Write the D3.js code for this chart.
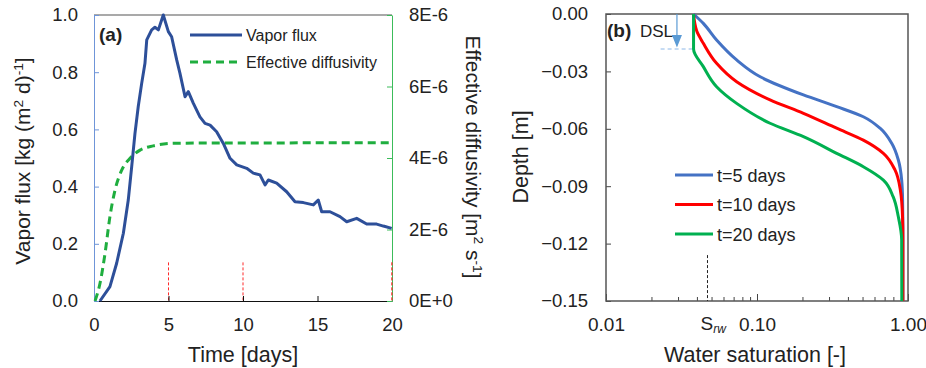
<!DOCTYPE html>
<html lang="en">
<head>
<meta charset="UTF-8">
<title>Vapor flux / water saturation</title>
<script src="https://cdn.jsdelivr.net/npm/d3@7/dist/d3.min.js"></script>
<style>
    body { margin: 0; background: #fff; }
    text { font-family: "Liberation Sans", Arial, sans-serif; fill: #222; }
</style>
</head>
<body>
<script>
    // ---- panel (a): vapor flux and effective diffusivity over time
    const fluxTime = [0.4, 1.07, 1.52, 1.97, 2.3, 2.53, 2.75, 2.97, 3.2, 3.42, 3.54, 3.87, 4.09, 4.32, 4.65, 4.99, 5.21, 5.55, 5.77, 6.11, 6.33, 6.67, 7.11, 7.45, 7.79, 8.23, 8.68, 9.13, 9.58, 10.25, 10.69, 11.14, 11.48, 11.7, 12.26, 12.93, 13.49, 14.05, 14.72, 15.05, 15.28, 15.84, 16.51, 16.96, 17.63, 18.3, 18.97, 19.42, 19.98];
    const fluxValue = [0, 0.05, 0.132, 0.237, 0.353, 0.47, 0.586, 0.68, 0.761, 0.831, 0.913, 0.948, 0.957, 0.948, 1.0, 0.942, 0.924, 0.843, 0.796, 0.714, 0.732, 0.691, 0.644, 0.621, 0.615, 0.592, 0.551, 0.499, 0.476, 0.464, 0.447, 0.441, 0.406, 0.423, 0.412, 0.382, 0.347, 0.344, 0.336, 0.353, 0.312, 0.312, 0.295, 0.277, 0.289, 0.269, 0.269, 0.262, 0.254];
    const diffTime = [0.07, 0.4, 0.74, 1.07, 1.41, 1.86, 2.42, 3.09, 3.98, 5.32, 8, 12, 16, 20];
    const diffValue = [0, 0.49e-6, 1.33e-6, 2.36e-6, 3.10e-6, 3.66e-6, 3.99e-6, 4.22e-6, 4.34e-6, 4.41e-6, 4.42e-6, 4.42e-6, 4.43e-6, 4.43e-6];
    const markTimes = [5, 10, 20];
    const timeTicks = [0, 5, 10, 15, 20];
    const fluxTicks = [0, 0.2, 0.4, 0.6, 0.8, 1.0];
    const diffTicks = [0, 2e-6, 4e-6, 6e-6, 8e-6];
    const seriesA = ["Vapor flux", "Effective diffusivity"];

    // ---- panel (b): saturation profiles
    const depth5 = [0, -0.0049, -0.0136, -0.024, -0.0328, -0.0423, -0.0484, -0.0537, -0.0597, -0.0676, -0.0763, -0.0868, -0.0972, -0.114, -0.15];
    const sat5 = [0.038, 0.0441, 0.054, 0.0733, 0.105, 0.203, 0.337, 0.506, 0.653, 0.78, 0.863, 0.908, 0.921, 0.925, 0.925];
    const depth10 = [0, -0.0089, -0.0153, -0.0258, -0.0354, -0.0449, -0.0519, -0.0597, -0.0659, -0.0728, -0.0815, -0.092, -0.106, -0.118, -0.15];
    const sat10 = [0.038, 0.0399, 0.0441, 0.054, 0.0733, 0.122, 0.203, 0.337, 0.506, 0.687, 0.82, 0.89, 0.92, 0.925, 0.925];
    const depth20 = [0, -0.0183, -0.0275, -0.038, -0.0467, -0.0571, -0.0641, -0.0728, -0.0798, -0.0868, -0.0955, -0.106, -0.118, -0.15];
    const sat20 = [0.038, 0.038, 0.0441, 0.054, 0.0733, 0.122, 0.203, 0.337, 0.506, 0.687, 0.797, 0.863, 0.908, 0.91];
    const profileLabels = ["t=5 days", "t=10 days", "t=20 days"];
    const satTicks = [0.01, 0.1, 1];
    const satMinor = [0.02, 0.03, 0.04, 0.05, 0.06, 0.07, 0.08, 0.09, 0.2, 0.3, 0.4, 0.5, 0.6, 0.7, 0.8, 0.9];
    const depthTicks = [0, -0.03, -0.06, -0.09, -0.12, -0.15];
    const srw = 0.047;
    const dslDepth = -0.0183;

    const width = 926, height = 368;
    const svg = d3.select('body').append('svg')
        .attr('width', width).attr('height', height);

    // text with superscripts, parts = [[str, isSup], ...]
    function richText(t, parts) {
        let prevSup = false;
        parts.forEach(([s, sup]) => {
            t.append('tspan').text(s)
                .attr('font-size', sup ? '0.65em' : null)
                .attr('dy', sup ? '-0.55em' : (prevSup ? '0.36em' : null));
            prevSup = sup;
        });
        return t;
    }

    // ================= panel (a)
    const ax = d3.scaleLinear().domain([0, 20]).range([94, 392]);
    const ayL = d3.scaleLinear().domain([0, 1]).range([301, 15]);
    const ayR = d3.scaleLinear().domain([0, 8e-6]).range([301, 15]);

    const pa = svg.append('g');

    // top border
    pa.append('line')
        .attr('x1', ax(0)).attr('x2', ax(20))
        .attr('y1', ayL(1)).attr('y2', ayL(1))
        .attr('stroke', '#555').attr('stroke-width', 1.2);

    // red dashed markers
    pa.selectAll('.mark').data(markTimes).enter().append('line')
        .attr('x1', d => ax(d)).attr('x2', d => ax(d))
        .attr('y1', ayL(0.135)).attr('y2', ayL(0))
        .attr('stroke', '#ff2a2a').attr('stroke-width', 1)
        .attr('stroke-dasharray', '3,2');

    let g = pa.append('g').attr('transform', `translate(0,${ayL(0)})`)
        .call(d3.axisBottom(ax).tickValues(timeTicks).tickSizeInner(-5).tickSizeOuter(0).tickPadding(17));
    g.select('.domain').attr('stroke', '#111').attr('stroke-width', 1.2);
    g.selectAll('.tick line').attr('stroke', '#111');
    g.selectAll('text').attr('font-size', 18.5).attr('fill', '#222');

    g = pa.append('g').attr('transform', `translate(${ax(0)},0)`)
        .call(d3.axisLeft(ayL).tickValues(fluxTicks).tickFormat(d3.format('.1f'))
            .tickSizeInner(-5).tickSizeOuter(0).tickPadding(16));
    g.select('.domain').attr('stroke', '#6f95d8');
    g.selectAll('.tick line').attr('stroke', '#6f95d8');
    g.selectAll('text').attr('font-size', 18.5).attr('fill', '#222');

    g = pa.append('g').attr('transform', `translate(${ax(20)},0)`)
        .call(d3.axisRight(ayR).tickValues(diffTicks)
            .tickFormat(d => d === 0 ? '0E+0' : Math.round(d * 1e6) + 'E-6')
            .tickSizeInner(-5).tickSizeOuter(0).tickPadding(17));
    g.select('.domain').attr('stroke', '#3cbc5a');
    g.selectAll('.tick line').attr('stroke', '#3cbc5a');
    g.selectAll('text').attr('font-size', 18.5).attr('fill', '#222');

    // red marker at 20 drawn again over the right axis
    pa.append('line')
        .attr('x1', ax(20)).attr('x2', ax(20))
        .attr('y1', ayL(0.135)).attr('y2', ayL(0))
        .attr('stroke', '#ff2a2a').attr('stroke-width', 1)
        .attr('stroke-dasharray', '3,2');

    const diffLine = d3.line().x((d, i) => ax(diffTime[i])).y(d => ayR(d)).curve(d3.curveMonotoneX);
    pa.append('path').attr('d', diffLine(diffValue))
        .attr('fill', 'none').attr('stroke', '#1fae3f').attr('stroke-width', 3)
        .attr('stroke-dasharray', '8,5');

    const fluxLine = d3.line().x((d, i) => ax(fluxTime[i])).y(d => ayL(d));
    pa.append('path').attr('d', fluxLine(fluxValue))
        .attr('fill', 'none').attr('stroke', '#2d4f99').attr('stroke-width', 3)
        .attr('stroke-linejoin', 'round');

    // legend (a)
    const legA = pa.selectAll('.legA').data(seriesA).enter().append('g')
        .attr('transform', (d, i) => `translate(190,${35 + i * 27})`);
    legA.append('line').attr('x1', 0).attr('x2', 52)
        .attr('stroke', (d, i) => i === 0 ? '#2d4f99' : '#1fae3f')
        .attr('stroke-width', 3)
        .attr('stroke-dasharray', (d, i) => i === 0 ? null : '8,5');
    legA.append('text').attr('x', 56).attr('y', 6)
        .attr('font-size', 16).text(d => d);

    pa.append('text').attr('x', 99).attr('y', 41)
        .attr('font-size', 19).attr('font-weight', 'bold').text('(a)');

    pa.append('text').attr('x', ax(10)).attr('y', 362)
        .attr('text-anchor', 'middle').attr('font-size', 21.5).text('Time [days]');

    richText(pa.append('text').attr('transform', 'translate(30,161) rotate(-90)')
        .attr('text-anchor', 'middle').attr('font-size', 21),
        [['Vapor flux [kg (m', false], ['2', true], [' d)', false], ['-1', true], [']', false]]);

    richText(pa.append('text').attr('transform', 'translate(466,157) rotate(90)')
        .attr('text-anchor', 'middle').attr('font-size', 21),
        [['Effective diffusivity [m', false], ['2', true], [' s', false], ['-1', true], [']', false]]);

    // ================= panel (b)
    const bx = d3.scaleLog().domain([0.01, 1]).range([606, 908]);
    const by = d3.scaleLinear().domain([0, -0.15]).range([14, 301]);
    const pb = svg.append('g');

    g = pb.append('g').attr('transform', `translate(0,${by(-0.15)})`)
        .call(d3.axisBottom(bx).tickValues(satMinor).tickFormat('').tickSizeInner(-4).tickSizeOuter(0));
    g.select('.domain').remove();
    g.selectAll('.tick line').attr('stroke', '#444');

    g = pb.append('g').attr('transform', `translate(0,${by(-0.15)})`)
        .call(d3.axisBottom(bx).tickValues(satTicks).tickFormat(d3.format('.2f'))
            .tickSizeInner(-7).tickSizeOuter(0).tickPadding(17));
    g.select('.domain').remove();
    g.selectAll('.tick line').attr('stroke', '#444');
    g.selectAll('text').attr('font-size', 19).attr('fill', '#222');

    g = pb.append('g').attr('transform', `translate(${bx(0.01)},0)`)
        .call(d3.axisLeft(by).tickValues(depthTicks).tickFormat(d3.format('.2f'))
            .tickSizeInner(-5).tickSizeOuter(0).tickPadding(18));
    g.select('.domain').remove();
    g.selectAll('.tick line').attr('stroke', '#444');
    g.selectAll('text').attr('font-size', 18.5).attr('fill', '#222');

    pb.append('rect')
        .attr('x', bx(0.01)).attr('y', by(0))
        .attr('width', bx(1) - bx(0.01)).attr('height', by(-0.15) - by(0))
        .attr('fill', 'none').attr('stroke', '#555').attr('stroke-width', 1.5);

    // Srw marker
    pb.append('line')
        .attr('x1', bx(srw)).attr('x2', bx(srw))
        .attr('y1', by(-0.126)).attr('y2', by(-0.15))
        .attr('stroke', '#222').attr('stroke-width', 1).attr('stroke-dasharray', '3,2');
    const srwText = pb.append('text').attr('x', bx(srw) - 7).attr('y', 330)
        .attr('font-size', 19);
    srwText.append('tspan').text('S');
    srwText.append('tspan').text('rw').attr('font-size', 12)
        .attr('font-style', 'italic').attr('dy', 3);

    // DSL annotation
    pb.append('line')
        .attr('x1', bx(0.023)).attr('x2', bx(0.038))
        .attr('y1', by(dslDepth)).attr('y2', by(dslDepth))
        .attr('stroke', '#8db8e8').attr('stroke-width', 1).attr('stroke-dasharray', '4,3');
    const arrowX = bx(0.0295);
    pb.append('line')
        .attr('x1', arrowX).attr('x2', arrowX)
        .attr('y1', by(0)).attr('y2', by(-0.013))
        .attr('stroke', '#5b9bd5').attr('stroke-width', 1.2);
    pb.append('path')
        .attr('d', d3.line()([[arrowX - 5, by(-0.011)], [arrowX + 5, by(-0.011)], [arrowX, by(-0.0175)]]) + 'Z')
        .attr('fill', '#5b9bd5');

    const profiles = [
        {sat: sat5, depth: depth5, color: '#4472c4'},
        {sat: sat10, depth: depth10, color: '#ff0000'},
        {sat: sat20, depth: depth20, color: '#00b050'}
    ];
    const profLine = d3.line().curve(d3.curveMonotoneY);
    profiles.forEach(p => {
        pb.append('path')
            .attr('d', profLine(p.sat.map((s, i) => [bx(s), by(p.depth[i])])))
            .attr('fill', 'none').attr('stroke', p.color).attr('stroke-width', 3);
    });

    const legB = pb.selectAll('.legB').data(profileLabels).enter().append('g')
        .attr('transform', (d, i) => `translate(675,${175 + i * 29.5})`);
    legB.append('line').attr('x1', 0).attr('x2', 38)
        .attr('stroke', (d, i) => profiles[i].color).attr('stroke-width', 3);
    legB.append('text').attr('x', 42).attr('y', 6.5)
        .attr('font-size', 18).text(d => d);

    pb.append('text').attr('x', 607).attr('y', 37)
        .attr('font-family', '"Open Sans", sans-serif')
        .attr('font-size', 19).attr('font-weight', 'bold').text('(b)');
    pb.append('text').attr('x', 640).attr('y', 37)
        .attr('font-family', '"Open Sans", sans-serif')
        .attr('font-size', 17).text('DSL');

    pb.append('text').attr('x', 755).attr('y', 362)
        .attr('text-anchor', 'middle').attr('font-size', 21.5).text('Water saturation [-]');
    pb.append('text').attr('transform', 'translate(528,157) rotate(-90)')
        .attr('text-anchor', 'middle').attr('font-size', 21.5).text('Depth [m]');
</script>
</body>
</html>
